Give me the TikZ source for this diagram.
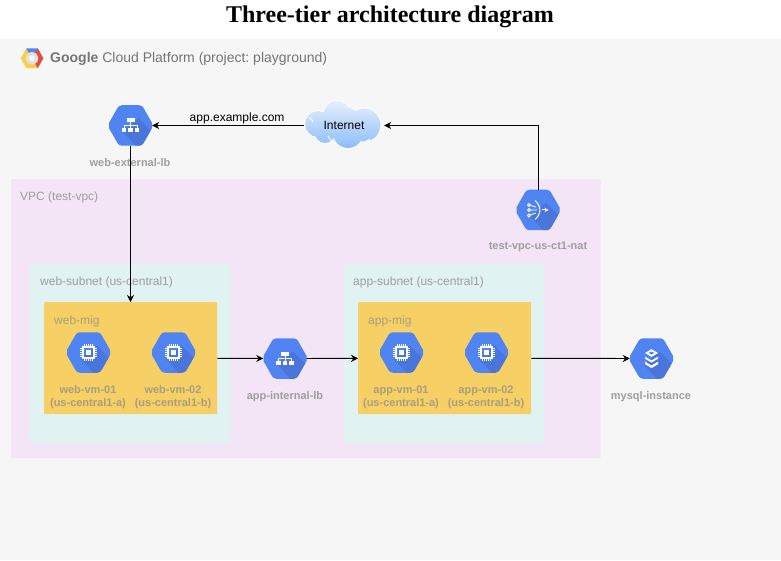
\documentclass[tikz,border=0pt]{standalone}
\usepackage{fontspec}
\setmainfont{Liberation Sans}
\newfontfamily\titlefont{Liberation Serif}
\usepackage{xcolor}
\usetikzlibrary{arrows.meta}
\definecolor{gcpbg}{HTML}{F6F6F6}
\definecolor{vpcbg}{HTML}{F3E5F5}
\definecolor{subnetbg}{HTML}{E0F2F1}
\definecolor{migbg}{HTML}{F6CF65}
\definecolor{hexblue}{HTML}{5184F3}
\definecolor{hexdark}{HTML}{4A76DC}
\definecolor{graytext}{HTML}{9E9E9E}
\definecolor{migtext}{HTML}{A99F80}
\definecolor{cloudtop}{HTML}{E6F0FD}
\definecolor{cloudbot}{HTML}{8DBDFB}
\newcommand{\hexoutline}{[rounded corners=3pt] (-23,0) -- (-11.5,-20.25) -- (11.5,-20.25) -- (23,0) -- (11.5,20.25) -- (-11.5,20.25) -- cycle}
\tikzset{
  areabox/.style={anchor=north west,inner sep=0pt,rounded corners=1pt},
  arealabel/.style={anchor=west,inner sep=0pt,font=\fontsize{12}{14}\selectfont,text=graytext},
  iconlabel/.style={inner sep=0pt,align=center,font=\fontsize{11}{13}\selectfont\bfseries,text=graytext},
  hexnode/.style={inner sep=0pt,minimum width=43pt,minimum height=40.5pt,
    path picture={\begin{scope}[shift={(path picture bounding box.center)}]
      \fill[hexblue] \hexoutline;
      \clip \hexoutline;
      \fill[hexdark] (-8,6) -- (8,-7) -- (30,15) -- (14,30) -- cycle;
    \end{scope}}},
  link/.style={->,>={Stealth[length=7pt,width=7pt]},line width=0.9pt},
  lbglyph/.pic={
    \fill[white] (-4,-7) rectangle (4,-3);
    \draw[white,line width=1pt] (0,-3) -- (0,3) (-6.5,3) -- (-6.5,0) -- (6.5,0) -- (6.5,3);
    \foreach \p in {-6.5,0,6.5} \fill[white] (\p-2.2,2.5) rectangle (\p+2.2,6.3);
  },
  chipglyph/.pic={
    \draw[white,line width=1.3pt] (-5.5,-5.5) rectangle (5.5,5.5);
    \fill[white] (-2.8,-2.8) rectangle (2.8,2.8);
    \foreach \p in {-4,-2,0,2,4} {
      \draw[white,line width=0.8pt] (\p,-8.2) -- (\p,-5.5) (\p,5.5) -- (\p,8.2);
      \draw[white,line width=0.8pt] (-8.2,\p) -- (-5.5,\p) (5.5,\p) -- (8.2,\p);
    }
  },
  natglyph/.pic={
    \draw[white,line width=1pt] (-3,-9.5) .. controls (3.5,-4) and (3.5,4) .. (-3,9.5);
    \draw[white,line width=0.8pt] (-9,-5) -- (-2,-3) (-9,0) -- (-1,0) (-9,5.5) -- (-2,3);
    \foreach \p in {-5,0,5.5} \draw[white,line width=0.8pt,fill=hexblue] (-9,\p) circle (1.5);
    \draw[white,line width=1pt,-{Stealth[length=4pt,width=4.5pt]}] (4,0) -- (10.5,0);
  },
  sqlglyph/.pic={
    \fill[white] (0,-9.3) -- (6.5,-5.5) -- (0,-1.6) -- (-6.5,-5.5) -- cycle;
    \fill[hexblue] (0,-7) -- (2.8,-5.5) -- (0,-4) -- (-2.8,-5.5) -- cycle;
    \fill[white] (-6.5,-1.9) -- (0,2) -- (6.5,-1.9) -- (6.5,0.2) -- (0,4.1) -- (-6.5,0.2) -- cycle;
    \fill[white] (-6.5,3.1) -- (0,7) -- (6.5,3.1) -- (6.5,5.7) -- (0,9.6) -- (-6.5,5.7) -- cycle;
  }
}
\begin{document}
\frenchspacing
\begin{tikzpicture}[x=1pt,y=-1pt]
  \useasboundingbox (0,0) rectangle (781,561);
  \node[inner sep=0pt,font=\titlefont\fontsize{24}{28}\selectfont\bfseries] (title) at (390,16.5) {Three-tier architecture diagram};

  % nested areas
  \node[areabox,fill=gcpbg,rounded corners=0pt,minimum width=781pt,minimum height=521pt] (gcp) at (0,39) {};
  \node[areabox,fill=vpcbg,minimum width=589.5pt,minimum height=279pt] (vpc) at (11,179) {};
  \node[areabox,fill=subnetbg,minimum width=200.5pt,minimum height=179pt] (websubnet) at (30,264) {};
  \node[areabox,fill=subnetbg,minimum width=200pt,minimum height=179pt] (appsubnet) at (344,264) {};
  \node[areabox,fill=migbg,minimum width=173pt,minimum height=112pt] (webmig) at (44,302) {};
  \node[areabox,fill=migbg,minimum width=173pt,minimum height=112pt] (appmig) at (358,302) {};

  \node[arealabel,font=\fontsize{14}{16}\selectfont,text=black!54] (gcptext) at (50,58.5) {\textbf{Google} Cloud Platform (project: playground)};
  \node[arealabel] (vpctext) at (20,197) {VPC (test-vpc)};
  \node[arealabel] (websubnettext) at (40,282) {web-subnet (us-central1)};
  \node[arealabel] (appsubnettext) at (353,282) {app-subnet (us-central1)};
  \node[arealabel,text=migtext] (webmigtext) at (54,321) {web-mig};
  \node[arealabel,text=migtext] (appmigtext) at (368,321) {app-mig};

  % platform logo
  \fill[color={rgb,255:red,250;green,204;blue,80}] (20.7,58.3) -- (26.3,48.5) -- (29,53.3) -- (26,58.3) -- (29,63.3) -- (38,63.3) -- (37.8,68.1) -- (26.3,68.1) -- cycle;
  \fill[color={rgb,255:red,84;green,133;blue,236}] (26.3,48.5) -- (37.8,48.5) -- (40.6,53.3) -- (35,53.3) -- (29,53.3) -- cycle;
  \fill[color={rgb,255:red,224;green,78;blue,62}] (37.8,48.5) -- (43.4,58.3) -- (37.8,68.1) -- (35,63.3) -- (38,58.3) -- (35,53.3) -- cycle;
  \fill[black!12] (32,58.3) circle (6.2);
  \fill[white] (32,58.3) circle (3);

  % icons
  \node[hexnode] (weblb) at (130.5,125.5) {};
  \node[hexnode] (webvma) at (88.5,352.5) {};
  \node[hexnode] (webvmb) at (173.5,352.5) {};
  \node[hexnode] (applb) at (285,358.5) {};
  \node[hexnode] (appvma) at (401.5,352.5) {};
  \node[hexnode] (appvmb) at (486.5,352.5) {};
  \node[hexnode] (mysql) at (651.5,358.5) {};
  \node[hexnode] (nat) at (538,210) {};
  \pic at (weblb) {lbglyph};
  \pic at (applb) {lbglyph};
  \pic at (webvma) {chipglyph};
  \pic at (webvmb) {chipglyph};
  \pic at (appvma) {chipglyph};
  \pic at (appvmb) {chipglyph};
  \pic at (mysql) {sqlglyph};
  \pic at (nat) {natglyph};

  \node[iconlabel] (weblbtext) at (130,163) {web-external-lb};
  \node[iconlabel] (nattext) at (538,247) {test-vpc-us-ct1-nat};
  \node[iconlabel] (applbtext) at (285,396.5) {app-internal-lb};
  \node[iconlabel] (mysqltext) at (651,396.5) {mysql-instance};
  \node[iconlabel,text=migtext] (webvmatext) at (88,397) {web-vm-01\\(us-central1-a)};
  \node[iconlabel,text=migtext] (webvmbtext) at (173,397) {web-vm-02\\(us-central1-b)};
  \node[iconlabel,text=migtext] (appvmatext) at (401,397) {app-vm-01\\(us-central1-a)};
  \node[iconlabel,text=migtext] (appvmbtext) at (486,397) {app-vm-02\\(us-central1-b)};

  % internet
  \draw[white,line width=2pt] (318,124) circle (13) (337,114) circle (13.3) (364,125) circle (16.5) (348,133) circle (15) (325,133) circle (10);
  \shade[top color=cloudtop,bottom color=cloudbot] (318,124) circle (13) (337,114) circle (13.3) (364,125) circle (16.5) (348,133) circle (15) (325,133) circle (10) (345,122) circle (15);
  \draw[white,line width=1pt] (328,136) .. controls (330,140) and (333,142) .. (337,144);
  \draw[white,line width=1pt] (366,141) .. controls (368,141) and (369,140) .. (370,139);
  \draw[white,line width=1pt] (309,117) .. controls (311,118) and (312,120) .. (313,122);
  \node[inner sep=0pt,minimum width=80pt,minimum height=49pt,font=\fontsize{12}{14}\selectfont] (inet) at (344,125.5) {Internet};

  \draw[link] (inet) -- (weblb) node[pos=.44,above=1.5pt,inner sep=0pt,font=\fontsize{12}{14}\selectfont] (domain) {app.example.com};
  \draw[link] (weblb.south) -- (weblb.south |- webmig.north);
  \draw[link] (webmig) -- (applb);
  \draw[link] (applb) -- (appmig);
  \draw[link] (appmig) -- (mysql);
  \draw[link] (nat.north) -- (nat.north |- inet.east) -- (inet.east);
\end{tikzpicture}
\end{document}
